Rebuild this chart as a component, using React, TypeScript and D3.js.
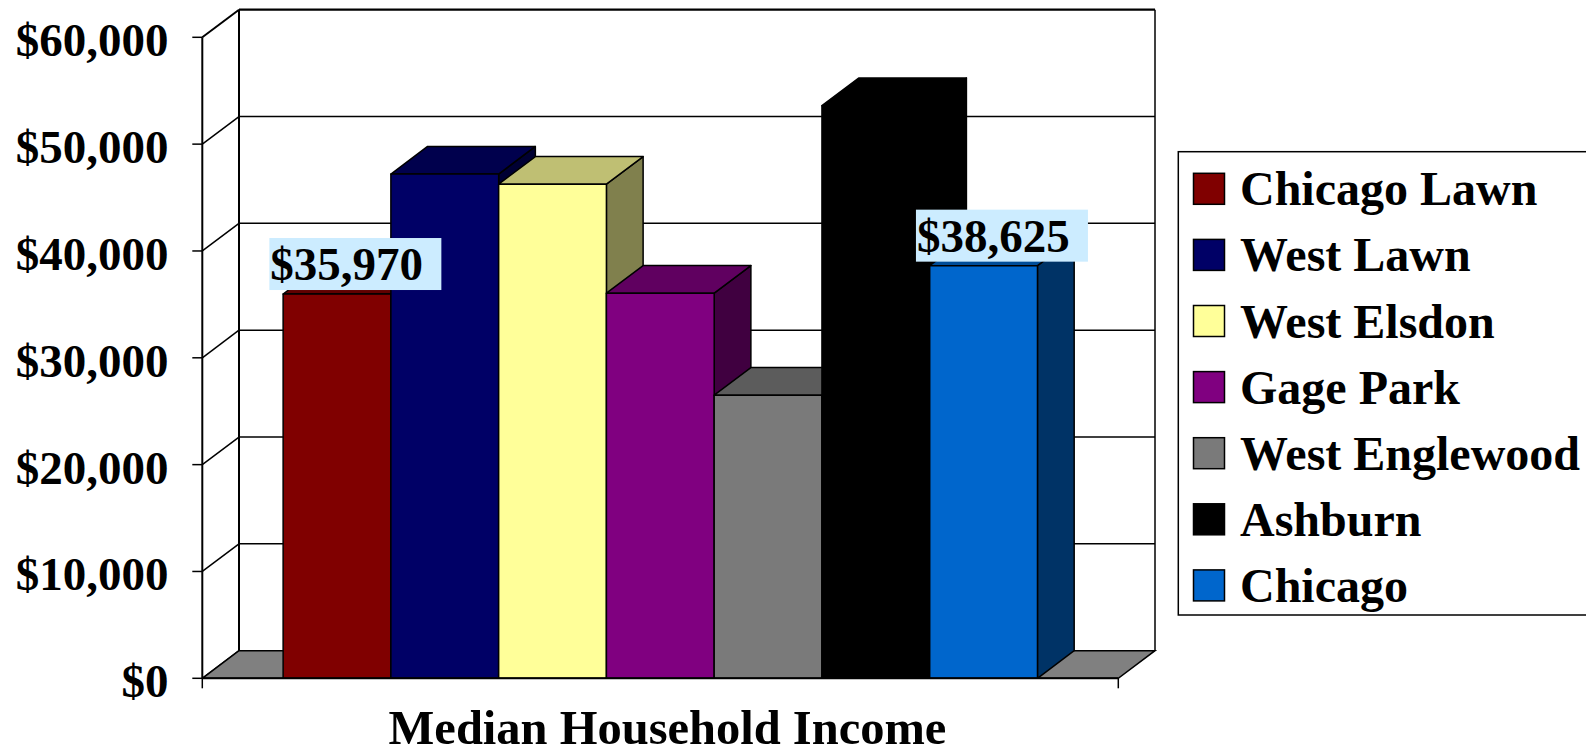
import React from "react";
import * as d3 from "d3";

const categoryLabel = "Median Household Income";
const neighborhoods = [
  "Chicago Lawn",
  "West Lawn",
  "West Elsdon",
  "Gage Park",
  "West Englewood",
  "Ashburn",
  "Chicago",
];
const incomes = [35970, 47200, 46250, 36050, 26500, 53600, 38625];
const barColors = ["#800000", "#000066", "#FFFF99", "#800080", "#7A7A7A", "#000000", "#0066CC"];
const labeledBars = ["Chicago Lawn", "Chicago"];
const yTickValues = [0, 10000, 20000, 30000, 40000, 50000, 60000];

const W = 1586;
const H = 751;
const FONT = "'Liberation Serif', 'Times New Roman', Times, serif";

// 3D frame geometry
const frontLeft = 202.3;
const frontRight = 1118.3;
const frontBottom = 678.3;
const frontTop = 37.3;
const DX = 36.7;
const DY = -27.6;

function shade(c: string, k: number) {
  const r = d3.rgb(c);
  return d3.rgb(r.r * k, r.g * k, r.b * k).formatHex();
}

const fmt = (v: number) => "$" + d3.format(",")(v);

export default function App() {
  const y = d3.scaleLinear().domain([0, 60000]).range([frontBottom, frontTop]);
  const xCat = d3.scaleBand<string>().domain([categoryLabel]).range([frontLeft, frontRight]);
  const catW = xCat.bandwidth();
  const barW = catW / (neighborhoods.length + 1.5);
  const catX0 = xCat(categoryLabel)!;
  const x = d3
    .scaleBand<string>()
    .domain(neighborhoods)
    .range([catX0 + barW * 0.75, catX0 + catW - barW * 0.75])
    .padding(0);

  const backLeft = frontLeft + DX;
  const backRight = frontRight + DX;

  const pts = (a: [number, number][]) => a.map((p) => p.join(",")).join(" ");

  return (
    <svg
      width={W}
      height={H}
      style={{ position: "absolute", left: 0, top: 0, background: "#fff" }}
      fontFamily={FONT}
    >
      {/* back wall gridlines */}
      {yTickValues.map((v) => (
        <g key={"g" + v}>
          <line
            x1={backLeft}
            x2={backRight}
            y1={y(v) + DY}
            y2={y(v) + DY}
            stroke="#000"
            strokeWidth={v === 60000 ? 2.2 : 1.5}
          />
          <line
            x1={frontLeft}
            x2={backLeft}
            y1={y(v)}
            y2={y(v) + DY}
            stroke="#000"
            strokeWidth={v === 60000 ? 2 : 1.5}
          />
        </g>
      ))}
      {/* wall edges */}
      <line x1={backLeft} x2={backLeft} y1={y(60000) + DY} y2={y(0) + DY} stroke="#000" strokeWidth={2} />
      <line x1={backRight} x2={backRight} y1={y(60000) + DY} y2={y(0) + DY} stroke="#000" strokeWidth={1.5} />
      {/* floor */}
      <polygon
        points={pts([
          [frontLeft, y(0)],
          [backLeft, y(0) + DY],
          [backRight, y(0) + DY],
          [frontRight, y(0)],
        ])}
        fill="#808080"
        stroke="#000"
        strokeWidth={1.5}
      />
      {/* bars */}
      {neighborhoods.map((n, i) => {
        const x0 = x(n)!;
        const x1 = x0 + x.bandwidth();
        const yt = y(incomes[i]);
        const yb = y(0);
        const c = barColors[i];
        return (
          <g key={n} stroke="#000" strokeWidth={1.5} strokeLinejoin="round">
            <polygon
              points={pts([
                [x1, yt],
                [x1 + DX, yt + DY],
                [x1 + DX, yb + DY],
                [x1, yb],
              ])}
              fill={shade(c, 0.5)}
            />
            <polygon
              points={pts([
                [x0, yt],
                [x0 + DX, yt + DY],
                [x1 + DX, yt + DY],
                [x1, yt],
              ])}
              fill={shade(c, 0.75)}
            />
            <rect x={x0} y={yt} width={x1 - x0} height={yb - yt} fill={c} />
          </g>
        );
      })}
      {/* front axis */}
      <line x1={frontLeft} x2={frontLeft} y1={y(60000)} y2={y(0)} stroke="#000" strokeWidth={2} />
      <line x1={frontLeft} x2={frontRight} y1={y(0)} y2={y(0)} stroke="#000" strokeWidth={2} />
      <line x1={frontLeft} x2={frontLeft} y1={y(0)} y2={y(0) + 10} stroke="#000" strokeWidth={1.5} />
      <line x1={frontRight} x2={frontRight} y1={y(0)} y2={y(0) + 10} stroke="#000" strokeWidth={1.5} />
      {yTickValues.map((v) => (
        <g key={"t" + v}>
          <line x1={frontLeft - 10} x2={frontLeft} y1={y(v)} y2={y(v)} stroke="#000" strokeWidth={1.5} />
          <text
            x={168.5}
            y={y(v) + 19}
            textAnchor="end"
            fontSize={47}
            fontWeight="bold"
            fill="#000"
          >
            {fmt(v)}
          </text>
        </g>
      ))}
      {/* data labels */}
      {neighborhoods.map((n, i) => {
        if (!labeledBars.includes(n)) return null;
        const cx = x(n)! + x.bandwidth() / 2 + DX / 2;
        const bw = 172;
        const bh = 52;
        const bottom = y(incomes[i]) - 4;
        return (
          <g key={"l" + n}>
            <rect x={cx - bw / 2} y={bottom - bh} width={bw} height={bh} fill="#CCECFF" />
            <text x={cx - bw / 2 + 1} y={bottom - 10} fontSize={47} fontWeight="bold" fill="#000">
              {fmt(incomes[i])}
            </text>
          </g>
        );
      })}
      {/* category title */}
      <text x={667.5} y={744} textAnchor="middle" fontSize={48.5} fontWeight="bold" fill="#000">
        {categoryLabel}
      </text>
      {/* legend */}
      <rect x={1178.3} y={151.7} width={440} height={463.3} fill="#fff" stroke="#000" strokeWidth={1.5} />
      {neighborhoods.map((n, i) => {
        const top = 173.3 + i * 66.1;
        return (
          <g key={"lg" + n}>
            <rect x={1193.5} y={top} width={31} height={31} fill={barColors[i]} stroke="#000" strokeWidth={1.5} />
            <text x={1240} y={top + 32} fontSize={48} fontWeight="bold" fill="#000">
              {n}
            </text>
          </g>
        );
      })}
    </svg>
  );
}
